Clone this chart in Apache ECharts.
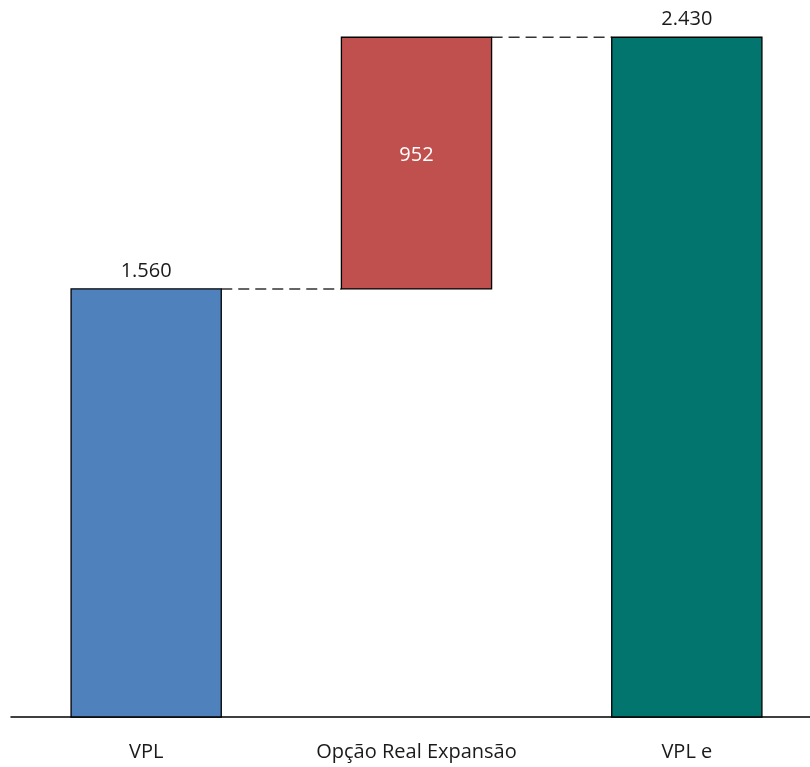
<!DOCTYPE html>
<html>
<head>
<meta charset="utf-8">
<script src="https://cdn.jsdelivr.net/npm/echarts@6/dist/echarts.min.js"></script>
<style>html,body{margin:0;padding:0;background:#fff;overflow:hidden;width:810px;height:767px}#c{width:822px;height:767px}</style>
</head>
<body>
<div id="c"></div>
<script>
const categories = ['VPL', 'Opção Real Expansão', 'VPL e'];
const barBottom = [0, 1560, 0];
const barTop = [1560, 2430, 2430];
const valueLabels = ['1.560', '952', '2.430'];
const barColors = ['#4F81BD', '#C0504D', '#02766E'];
const labelInside = [false, true, false];

const FONT = '"Open Sans", sans-serif';
const chart = echarts.init(document.getElementById('c'), null, {renderer: 'canvas'});

const barData = categories.map((c, i) => [i, barBottom[i], barTop[i]]);
const connData = [];
for (let i = 0; i < categories.length - 1; i++) {
  connData.push([i, barTop[i], i + 1]);
}

chart.setOption({
  animation: false,
  backgroundColor: '#fff',
  grid: {left: 11, right: 0, top: 17, bottom: 50},
  xAxis: {
    type: 'category',
    data: categories,
    axisLine: {show: true, lineStyle: {color: '#000', width: 1.5}},
    axisTick: {show: false},
    axisLabel: {color: '#1a1a1a', fontSize: 20, fontFamily: FONT, margin: 25}
  },
  yAxis: {
    type: 'value',
    min: 80,
    max: 2500,
    show: false,
    splitLine: {show: false}
  },
  series: [
    {
      type: 'custom',
      data: barData,
      encode: {x: 0, y: [1, 2]},
      renderItem: function (params, api) {
        const i = api.value(0);
        const cs = params.coordSys;
        const band = api.size([1, 0])[0];
        const w = band * 150 / 270;
        const pTop = api.coord([i, api.value(2)]);
        let yBot = api.coord([i, api.value(1)])[1];
        yBot = Math.min(yBot, cs.y + cs.height);
        const x = pTop[0] - w / 2;
        const children = [{
          type: 'rect',
          shape: {x: x, y: pTop[1], width: w, height: yBot - pTop[1]},
          style: {fill: barColors[i], stroke: '#000', lineWidth: 1.3}
        }];
        if (labelInside[i]) {
          children.push({
            type: 'text',
            style: {
              x: pTop[0], y: (pTop[1] + yBot) / 2 - 8,
              text: valueLabels[i], fill: '#fff', fontSize: 20, fontFamily: FONT,
              align: 'center', verticalAlign: 'middle'
            }
          });
        } else {
          children.push({
            type: 'text',
            style: {
              x: pTop[0], y: pTop[1] - 18,
              text: valueLabels[i], fill: '#1a1a1a', fontSize: 20, fontFamily: FONT,
              align: 'center', verticalAlign: 'middle'
            }
          });
        }
        return {type: 'group', children: children};
      },
      z: 2
    },
    {
      type: 'custom',
      data: connData,
      encode: {x: 0, y: 1},
      renderItem: function (params, api) {
        const i = api.value(0);
        const j = api.value(2);
        const band = api.size([1, 0])[0];
        const w = band * 150 / 270;
        const p1 = api.coord([i, api.value(1)]);
        const p2 = api.coord([j, api.value(1)]);
        return {
          type: 'line',
          shape: {x1: p1[0] + w / 2, y1: p1[1], x2: p2[0] - w / 2, y2: p2[1]},
          style: {stroke: '#333', lineWidth: 1.5, lineDash: [11, 6]}
        };
      },
      z: 1
    }
  ]
});
</script>
</body>
</html>
